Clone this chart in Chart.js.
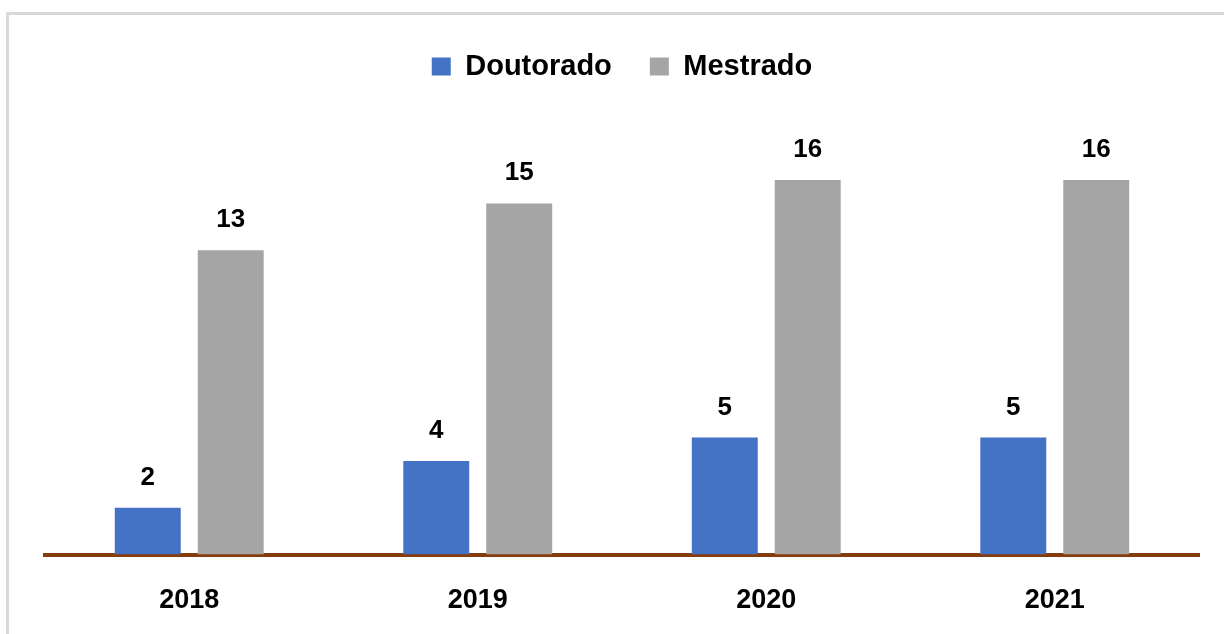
<!DOCTYPE html>
<html lang="pt">

<head>
    <meta charset="UTF-8">
    <title>Doutorado e Mestrado por ano</title>
    <script src="https://cdn.jsdelivr.net/npm/chart.js"></script>
    <style>
        body { margin: 0; background: #fff; }
        #frame {
            position: absolute; left: 6px; top: 12px; right: -10px; bottom: -10px;
            border-left: 3px solid #d9d9d9; border-top: 3px solid #d9d9d9;
        }
        canvas { position: absolute; left: 0; top: 0; }
    </style>
</head>

<body>
    <div id="frame"></div>
    <canvas id="grafico" width="1224" height="634"></canvas>
    <script>
        const anos = ['2018', '2019', '2020', '2021'];
        const doutorado = [2, 4, 5, 5];
        const mestrado = [13, 15, 16, 16];

        const fonte = "'Liberation Sans', Arial, sans-serif";

        // rótulos de valor em cima das barras
        const rotulos = {
            id: 'rotulos',
            afterDatasetsDraw(chart) {
                const ctx = chart.ctx;
                ctx.save();
                ctx.font = 'bold 26px ' + fonte;
                ctx.fillStyle = '#000';
                ctx.textAlign = 'center';
                ctx.textBaseline = 'alphabetic';
                chart.data.datasets.forEach((ds, i) => {
                    chart.getDatasetMeta(i).data.forEach((bar, j) => {
                        ctx.fillText(ds.data[j], bar.x, bar.y - 23);
                    });
                });
                ctx.restore();
            }
        };

        const config = {
            type: 'bar',
            data: {
                labels: anos,
                datasets: [{
                    label: 'Doutorado',
                    data: doutorado,
                    backgroundColor: '#4472C4'
                }, {
                    label: 'Mestrado',
                    data: mestrado,
                    backgroundColor: '#A5A5A5'
                }]
            },
            options: {
                responsive: false,
                animation: false,
                categoryPercentage: 0.575,
                barPercentage: 0.795,
                layout: {
                    padding: { left: 45, right: 25, top: 14, bottom: -13 }
                },
                scales: {
                    x: {
                        z: 1,
                        grid: { display: false, drawTicks: false },
                        border: { color: '#843C0C', width: 4 },
                        ticks: {
                            color: '#000',
                            padding: 30,
                            font: { family: fonte, size: 27, weight: 'bold' }
                        }
                    },
                    y: {
                        display: false,
                        min: 0,
                        max: 19.8
                    }
                },
                plugins: {
                    legend: {
                        position: 'top',
                        labels: {
                            color: '#000',
                            boxWidth: 19,
                            boxHeight: 18,
                            padding: 38,
                            font: { family: fonte, size: 29, weight: 'bold' }
                        }
                    },
                    tooltip: { enabled: false }
                }
            },
            plugins: [rotulos]
        };

        const ctx = document.querySelector('#grafico').getContext('2d');
        const grafico = new Chart(ctx, config);
    </script>
</body>

</html>
